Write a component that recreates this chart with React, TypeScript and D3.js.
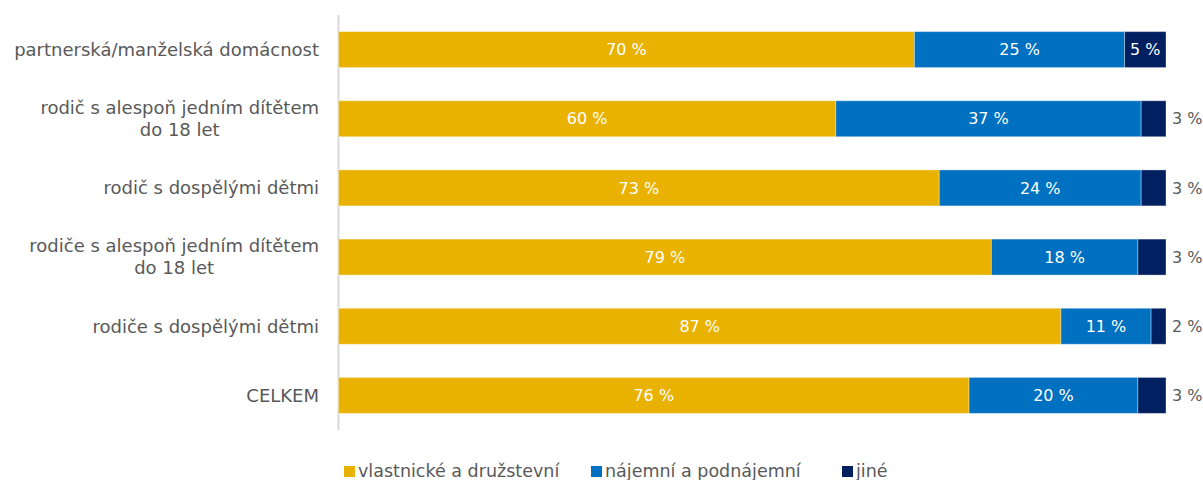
import React, { useEffect, useRef } from "react";
import * as d3 from "d3";

const categories = [
  ["partnerská/manželská domácnost"],
  ["rodič s alespoň jedním dítětem", "do 18 let"],
  ["rodič s dospělými dětmi"],
  ["rodiče s alespoň jedním dítětem", "do 18 let"],
  ["rodiče s dospělými dětmi"],
  ["CELKEM"],
];
const seriesNames = ["vlastnické a družstevní", "nájemní a podnájemní", "jiné"];
const seriesColors = ["#E9B200", "#0070C0", "#002060"];
const vlastnicke = [69.6, 60.1, 72.6, 78.9, 87.3, 76.2];
const najemni = [25.4, 36.9, 24.4, 17.7, 10.9, 20.4];
const jine = [5.0, 3.0, 3.0, 3.4, 1.8, 3.4];

const W = 1203;
const H = 480;
const FONT = "'DejaVu Sans', sans-serif";

export default function App() {
  const ref = useRef<SVGSVGElement | null>(null);

  useEffect(() => {
    const svg = d3.select(ref.current);
    svg.selectAll("*").remove();

    const x0 = 338.5, x1 = 1166;
    const top = 15, bottom = 430;
    const x = d3.scaleLinear().domain([0, 100]).range([x0, x1]);
    const idx = categories.map((_, i) => String(i));
    const y = d3.scaleBand().domain(idx).range([top, bottom]).paddingInner(0.48).paddingOuter(0.24);

    const rows = categories.map((c, i) => ({ i, v: [vlastnicke[i], najemni[i], jine[i]] }));
    const stack = d3.stack<any>().keys([0, 1, 2] as any).value((d: any, k: any) => d.v[k]);
    const stacked = stack(rows as any);

    svg.append("line")
      .attr("x1", x0).attr("x2", x0)
      .attr("y1", top).attr("y2", bottom)
      .attr("stroke", "#D9D9D9").attr("stroke-width", 2);

    stacked.forEach((layer: any, si: number) => {
      const g = svg.append("g");
      layer.forEach((d: any, ri: number) => {
        const bx = x(d[0]);
        const bw = x(d[1]) - x(d[0]);
        const by = y(String(ri))!;
        const bh = y.bandwidth();
        g.append("rect")
          .attr("x", bx).attr("y", by)
          .attr("width", bw).attr("height", bh)
          .attr("fill", seriesColors[si])
          .attr("stroke", "rgba(255,255,255,0.35)").attr("stroke-width", 1);
        const val = d[1] - d[0];
        const label = `${Math.round(val)} %`;
        const inside = bw > 36;
        g.append("text")
          .attr("x", inside ? bx + bw / 2 : x1 + 6)
          .attr("y", by + bh / 2)
          .attr("dy", "0.35em")
          .attr("text-anchor", inside ? "middle" : "start")
          .attr("fill", inside ? "#FFFFFF" : "#595959")
          .attr("font-family", FONT)
          .attr("font-size", 16)
          .text(label);
      });
    });

    const labelX = 319;
    const catSize = 18;
    categories.forEach((lines, i) => {
      const cy = y(String(i))! + y.bandwidth() / 2;
      const lh = 22;
      const t = svg.append("text")
        .attr("font-family", FONT)
        .attr("font-size", catSize)
        .attr("fill", "#595959");
      if (lines.length === 1) {
        t.attr("x", labelX).attr("y", cy).attr("dy", "0.35em").attr("text-anchor", "end").text(lines[0]);
      } else {
        t.attr("x", labelX).attr("y", cy - lh / 2).attr("dy", "0.35em").attr("text-anchor", "end").text(lines[0]);
        const w = (t.node() as SVGTextElement).getComputedTextLength();
        svg.append("text")
          .attr("font-family", FONT)
          .attr("font-size", catSize)
          .attr("fill", "#595959")
          .attr("x", labelX - w / 2).attr("y", cy + lh / 2).attr("dy", "0.35em")
          .attr("text-anchor", "middle").text(lines[1]);
      }
    });

    const legendX = [344, 591, 842];
    const baseline = 477;
    seriesNames.forEach((name, i) => {
      svg.append("rect")
        .attr("x", legendX[i]).attr("y", baseline - 11)
        .attr("width", 11).attr("height", 11)
        .attr("fill", seriesColors[i]);
      svg.append("text")
        .attr("x", legendX[i] + 14).attr("y", baseline)
        .attr("font-family", FONT)
        .attr("font-size", 17.5)
        .attr("fill", "#595959")
        .text(name);
    });
  }, []);

  return (
    <svg ref={ref} width={W} height={H} style={{ position: "absolute", left: 0, top: 0, display: "block" }} />
  );
}
